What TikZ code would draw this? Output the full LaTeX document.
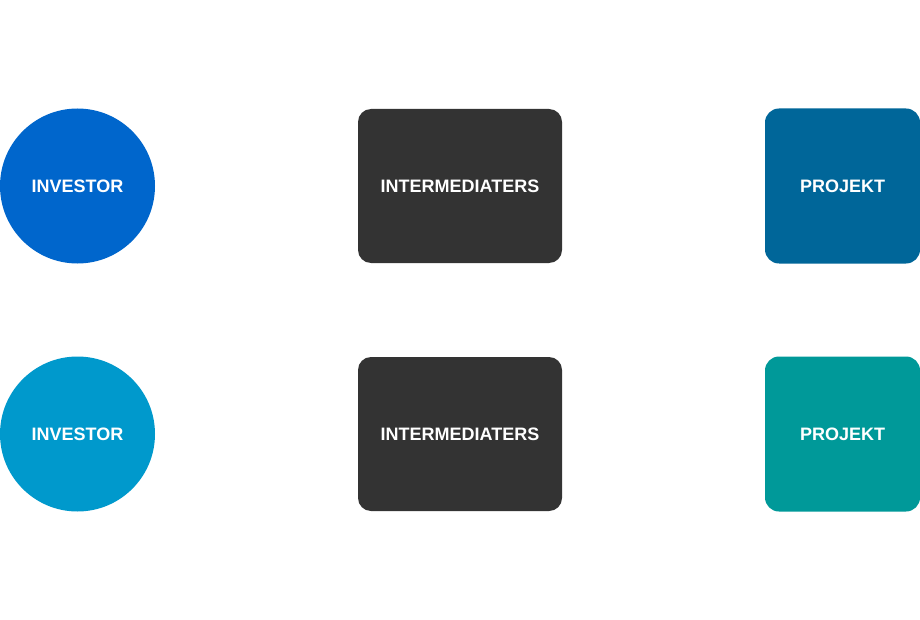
\documentclass[tikz,border=0pt]{standalone}
\usepackage{fontspec}
\setmainfont{Liberation Sans}
\definecolor{investorA}{HTML}{0066CC}
\definecolor{investorB}{HTML}{0099CC}
\definecolor{midbox}{HTML}{333333}
\definecolor{projektA}{HTML}{006699}
\definecolor{projektB}{HTML}{009999}
\begin{document}
\begin{tikzpicture}[x=1pt,y=-1pt,
  lbl/.style={text=white,font=\fontsize{18}{20}\selectfont\bfseries,inner sep=0pt},
  investor/.style={lbl,circle,minimum size=155pt},
  middle/.style={lbl,rectangle,rounded corners=13pt,fill=midbox,minimum width=204pt,minimum height=154pt},
  projekt/.style={lbl,rectangle,rounded corners=14pt,minimum width=155pt,minimum height=155pt}]
  \fill[white] (0,0) rectangle (920,620);
  \useasboundingbox (0,0) rectangle (920,620);
  % upper row
  \node[investor,fill=investorA] (inv1) at (77.5,186) {INVESTOR};
  \node[middle] (mid1) at (460,186) {INTERMEDIATERS};
  \node[projekt,fill=projektA] (pro1) at (842.5,186) {PROJEKT};
  % lower row
  \node[investor,fill=investorB] (inv2) at (77.5,434) {INVESTOR};
  \node[middle] (mid2) at (460,434) {INTERMEDIATERS};
  \node[projekt,fill=projektB] (pro2) at (842.5,434) {PROJEKT};
\end{tikzpicture}
\end{document}
